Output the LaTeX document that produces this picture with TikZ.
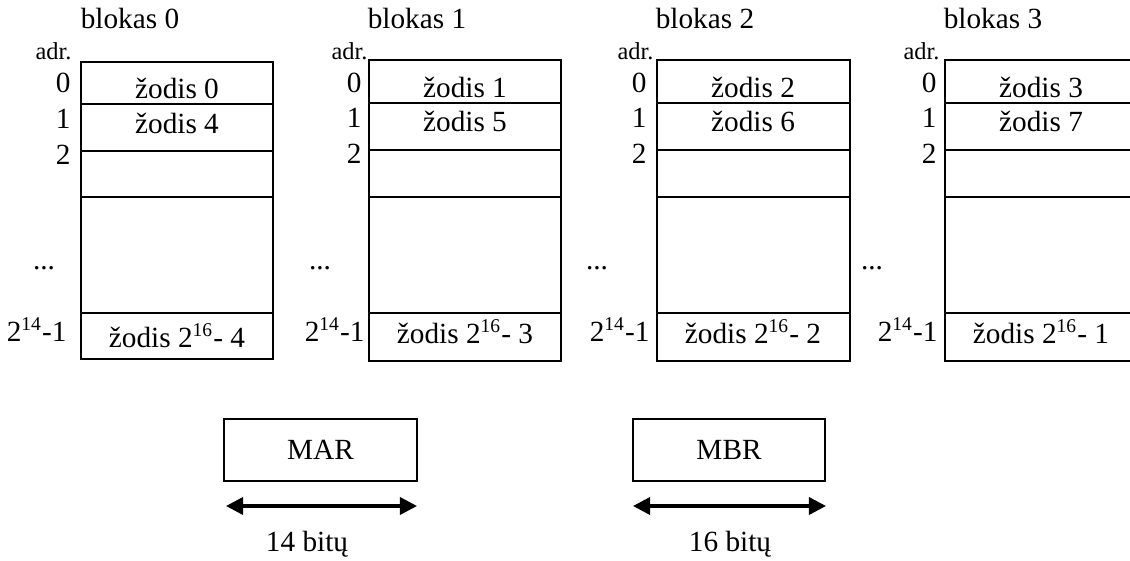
\documentclass[tikz,border=0pt]{standalone}
\usepackage{fontspec}
\setmainfont{Liberation Serif}
\usetikzlibrary{positioning, arrows.meta}
\tikzset{
frame/.style={draw, line width=0.8pt},
txt/.style={inner sep=0pt, anchor=base, font=\fontsize{12}{14}\selectfont},
addr/.style={inner sep=0pt, anchor=base east, font=\fontsize{12}{14}\selectfont},
small/.style={inner sep=0pt, anchor=base east, font=\fontsize{10}{12}\selectfont},
reg/.style={draw, line width=0.8pt, minimum width=79pt, minimum height=25.4pt, inner sep=0pt, font=\fontsize{12}{14}\selectfont},
bits/.style={{Triangle[length=7pt,width=7pt]}-{Triangle[length=7pt,width=7pt]}, line width=1.4pt},
}

\begin{document}
\begin{tikzpicture}[x=0.41pt, y=-0.41pt]
    \useasboundingbox (0,0) rectangle (1130,561);
    \clip (0,0) rectangle (1130,561);

    %block 0
    \draw[frame] (81,62) rectangle (273,359);
    \draw[frame] (81,104)--(273,104);
    \draw[frame] (81,151)--(273,151);
    \draw[frame] (81,197)--(273,197);
    \draw[frame] (81,313)--(273,313);
    \node[txt]   (name0) at (130,29) {blokas 0};
    \node[small] (adr0)  at (72,60)  {adr.};
    \node[addr]  (a00)   at (71,93)  {0};
    \node[addr]  (a01)   at (71,129) {1};
    \node[addr]  (a02)   at (71,165) {2};
    \node[txt]   (dots0) at (44,270) {...};
    \node[addr]  (a0n)   at (67,341) {2\textsuperscript{14}-1};
    \node[txt]   (w00)   at (177,99)  {žodis 0};
    \node[txt]   (w01)   at (177,134) {žodis 4};
    \node[txt]   (w0n)   at (177,347) {žodis 2\textsuperscript{16}- 4};

    %block 1
    \draw[frame] (369,60) rectangle (561,361);
    \draw[frame] (369,103)--(561,103);
    \draw[frame] (369,150)--(561,150);
    \draw[frame] (369,197)--(561,197);
    \draw[frame] (369,313)--(561,313);
    \node[txt]   (name1) at (417,29) {blokas 1};
    \node[small] (adr1)  at (368,60)  {adr.};
    \node[addr]  (a10)   at (362,93)  {0};
    \node[addr]  (a11)   at (362,128) {1};
    \node[addr]  (a12)   at (362,164) {2};
    \node[txt]   (dots1) at (320,270) {...};
    \node[addr]  (a1n)   at (365,341) {2\textsuperscript{14}-1};
    \node[txt]   (w10)   at (465,98)  {žodis 1};
    \node[txt]   (w11)   at (465,132) {žodis 5};
    \node[txt]   (w1n)   at (465,343) {žodis 2\textsuperscript{16}- 3};

    %block 2
    \draw[frame] (657,60) rectangle (850,361);
    \draw[frame] (657,103)--(850,103);
    \draw[frame] (657,150)--(850,150);
    \draw[frame] (657,197)--(850,197);
    \draw[frame] (657,313)--(850,313);
    \node[txt]   (name2) at (705,29) {blokas 2};
    \node[small] (adr2)  at (654,60)  {adr.};
    \node[addr]  (a20)   at (647,93)  {0};
    \node[addr]  (a21)   at (647,128) {1};
    \node[addr]  (a22)   at (647,164) {2};
    \node[txt]   (dots2) at (597,270) {...};
    \node[addr]  (a2n)   at (650,341) {2\textsuperscript{14}-1};
    \node[txt]   (w20)   at (753,98)  {žodis 2};
    \node[txt]   (w21)   at (753,132) {žodis 6};
    \node[txt]   (w2n)   at (753,343) {žodis 2\textsuperscript{16}- 2};

    %block 3 (runs past the right edge)
    \draw[frame] (945,60) rectangle (1137,361);
    \draw[frame] (945,103)--(1137,103);
    \draw[frame] (945,150)--(1137,150);
    \draw[frame] (945,197)--(1137,197);
    \draw[frame] (945,313)--(1137,313);
    \node[txt]   (name3) at (993,29) {blokas 3};
    \node[small] (adr3)  at (940,60)  {adr.};
    \node[addr]  (a30)   at (937,93)  {0};
    \node[addr]  (a31)   at (937,128) {1};
    \node[addr]  (a32)   at (937,164) {2};
    \node[txt]   (dots3) at (872,270) {...};
    \node[addr]  (a3n)   at (938,341) {2\textsuperscript{14}-1};
    \node[txt]   (w30)   at (1041,98)  {žodis 3};
    \node[txt]   (w31)   at (1041,132) {žodis 7};
    \node[txt]   (w3n)   at (1041,343) {žodis 2\textsuperscript{16}- 1};

    %registers
    \node[reg] (mar) at (320.5,450) {MAR};
    \node[reg] (mbr) at (729,450)   {MBR};

    % widths
    \coordinate (marl) at (226,506);
    \coordinate (marr) at (417,506);
    \coordinate (mbrl) at (633,506);
    \coordinate (mbrr) at (826,506);
    \draw[bits] (marl)--(marr);
    \draw[bits] (mbrl)--(mbrr);
    \node[txt] (marw) at (307,551) {14 bitų};
    \node[txt] (mbrw) at (730,551) {16 bitų};

\end{tikzpicture}
\end{document}
